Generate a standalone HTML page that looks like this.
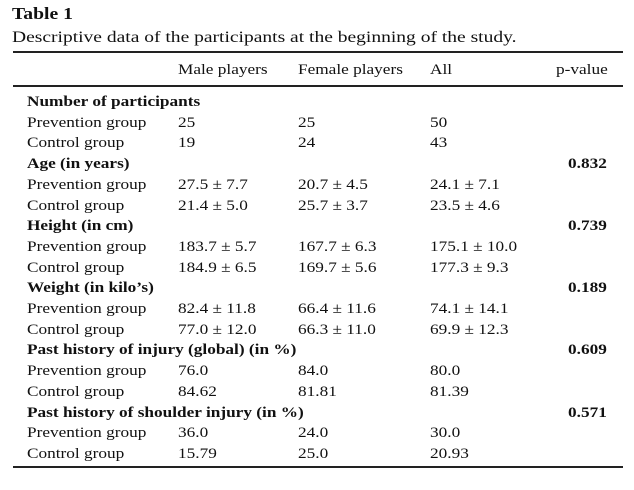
<!DOCTYPE html>
<html><head><style>
body{margin:0;width:634px;height:490px;background:#fff;font-family:"Liberation Serif",serif;color:#111;position:relative;overflow:hidden}
div{position:absolute;white-space:nowrap;font-size:14.5px;line-height:1;transform:scaleX(1.19);transform-origin:0 0}
.b{font-weight:bold}
.l{position:absolute;left:13px;width:610px;background:#222;transform:none}
</style></head><body>
<div class="b" style="left:12px;top:6px;font-size:16.5px">Table 1</div>
<div style="left:12px;top:30px;font-size:16px;transform:scaleX(1.22)">Descriptive data of the participants at the beginning of the study.</div>
<div class="l" style="top:51px;height:1.5px"></div>
<div style="left:178px;top:63px">Male players</div>
<div style="left:298px;top:63px">Female players</div>
<div style="left:430px;top:63px">All</div>
<div style="left:556px;top:63px">p-value</div>
<div class="l" style="top:85px;height:1.5px"></div>
<div class="l" style="top:466px;height:1.5px"></div>
<div id="rows"></div>
<script>
const R=[
["Number of participants",1],
["Prevention group",0,"25","25","50"],
["Control group",0,"19","24","43"],
["Age (in years)",1,"","","","0.832"],
["Prevention group",0,"27.5 ± 7.7","20.7 ± 4.5","24.1 ± 7.1"],
["Control group",0,"21.4 ± 5.0","25.7 ± 3.7","23.5 ± 4.6"],
["Height (in cm)",1,"","","","0.739"],
["Prevention group",0,"183.7 ± 5.7","167.7 ± 6.3","175.1 ± 10.0"],
["Control group",0,"184.9 ± 6.5","169.7 ± 5.6","177.3 ± 9.3"],
["Weight (in kilo’s)",1,"","","","0.189"],
["Prevention group",0,"82.4 ± 11.8","66.4 ± 11.6","74.1 ± 14.1"],
["Control group",0,"77.0 ± 12.0","66.3 ± 11.0","69.9 ± 12.3"],
["Past history of injury (global) (in %)",1,"","","","0.609"],
["Prevention group",0,"76.0","84.0","80.0"],
["Control group",0,"84.62","81.81","81.39"],
["Past history of shoulder injury (in %)",1,"","","","0.571"],
["Prevention group",0,"36.0","24.0","30.0"],
["Control group",0,"15.79","25.0","20.93"]];
let h="";
R.forEach((r,i)=>{const t=95+i*20.7;
h+=`<div class="${r[1]?'b':''}" style="left:27px;top:${t}px">${r[0]}</div>`;
if(r[2])h+=`<div style="left:178px;top:${t}px">${r[2]}</div>`;
if(r[3])h+=`<div style="left:298px;top:${t}px">${r[3]}</div>`;
if(r[4])h+=`<div style="left:430px;top:${t}px">${r[4]}</div>`;
if(r[5])h+=`<div class="b" style="left:568px;top:${t}px">${r[5]}</div>`;});
document.getElementById('rows').outerHTML=h;
</script>
</body></html>
